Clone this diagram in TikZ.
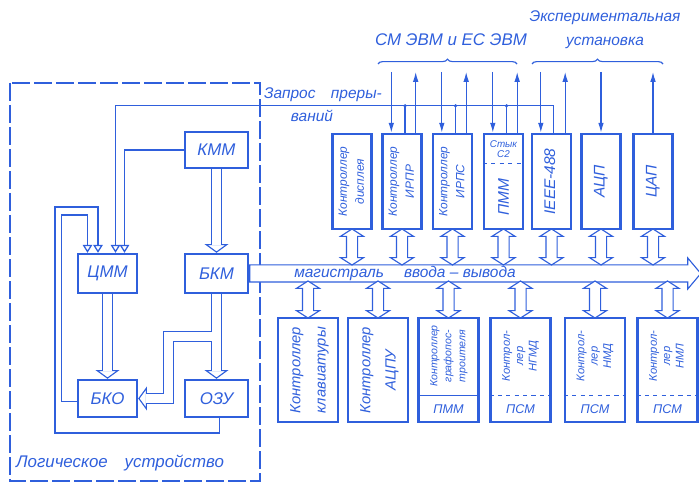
\documentclass[tikz,border=0pt]{standalone}
\usepackage{fontspec}
\setmainfont{Liberation Sans}
\usetikzlibrary{arrows.meta, shapes.arrows, calc, backgrounds, decorations.pathreplacing}
\definecolor{blu}{HTML}{2F5FDC}
\newcommand\vt[1]{\rotatebox{90}{\begin{tabular}{@{}c@{}}#1\end{tabular}}}

\begin{document}
\begin{tikzpicture}[x=0.25mm, y=-0.25mm, blu, font=\itshape, >=Latex,
        blk/.style={draw=blu, line width=1.7pt, inner sep=0pt, text=blu},
        wh/.style 2 args={minimum width=#1*0.25mm, minimum height=#2*0.25mm},
        upr/.style={blk, wh={39}{95}, font=\itshape\fontsize{8.5}{12}\selectfont},
        lwr/.style={blk, wh={60}{104}, font=\itshape\fontsize{10.5}{18}\selectfont},
        fbig/.style={font=\itshape\fontsize{12}{14}\selectfont},
        fmid/.style={font=\itshape\fontsize{11}{13}\selectfont},
        fsm/.style={font=\itshape\fontsize{9}{10}\selectfont},
        sig/.style={line width=0.9pt, -{Latex[length=2.5mm, width=1.4mm]}},
        opn/.style={line width=0.9pt, -{Triangle[open, length=2mm, width=2.4mm]}},
        hs/.style={blu, line width=0.8pt, double=white, double distance=2.2mm},
        hh/.style={blu, line width=0.8pt, -{Triangle[fill=white, length=2.2mm, width=6mm]}},
        dbl/.style={double arrow, draw=blu, fill=white, line width=0.8pt, inner sep=0pt,
            text height=1.25mm, text depth=1.25mm, double arrow head extend=1.5mm,
            double arrow tip angle=115, rotate=90},
        bus/.style={single arrow, draw=blu, fill=white, line width=0.8pt, inner sep=0pt,
            text height=2mm, text depth=2mm, minimum height=112.75mm,
            single arrow head extend=1.75mm, single arrow tip angle=100},
        sep/.style={line width=0.6pt},
        frm/.style={line width=0.8pt, dash pattern=on 4.5mm off 1mm}]
    \useasboundingbox (0,0) rectangle (699,484);
    % логическое устройство
    \draw[frm] (10,83) rectangle (260,481);
    \node[fbig] (lu) at (120,463) {Логическое\quad устройство};
    \node[blk, wh={63}{36}, fbig] (kmm) at (216.5,150) {КММ};
    \node[blk, wh={59}{39}, fbig] (cmm) at (107.5,273.5) {ЦММ};
    \node[blk, wh={63}{39}, fbig] (bkm) at (216.5,273.5) {БКМ};
    \node[blk, wh={59}{37}, fbig] (bko) at (107.5,398.5) {БКО};
    \node[blk, wh={63}{37}, fbig] (ozu) at (216.5,398.5) {ОЗУ};
    % верхний ряд
    \node[upr] (disp) at (352,181.5) {\vt{Контроллер\\дисплея}};
    \node[upr] (irpr) at (402,181.5) {\vt{Контроллер\\ИРПР}};
    \node[upr] (irps) at (452.5,181.5) {\vt{Контроллер\\ИРПС}};
    \node[upr] (pmm) at (503.5,181.5) {};
    \node[upr, fmid] (ieee) at (551.5,181.5) {\vt{IEEE-488}};
    \node[upr, fmid] (acp) at (601,181.5) {\vt{АЦП}};
    \node[upr, fmid] (cap) at (653,181.5) {\vt{ЦАП}};
    \node[font=\itshape\fontsize{7}{7.5}\selectfont, align=center] (pmm-s) at (503.5,149) {Стык\\С2};
    \draw[sep, dashed] (pmm.west |- 0,163) -- (pmm.east |- 0,163);
    \node[fmid] (pmm-t) at (503.5,197) {\rotatebox{90}{ПММ}};
    % нижний ряд
    \node[lwr] (klav) at (308,370) {\vt{Контроллер\\клавиатуры}};
    \node[lwr] (acpu) at (378,370) {\vt{Контроллер\\АЦПУ}};
    \node[lwr] (graf) at (448.5,370) {};
    \node[font=\itshape\fontsize{7.5}{10}\selectfont] (graf-t) at (448.5,356) {\vt{Контроллер\\графопос-\\троителя}};
    \draw[sep] (graf.west |- 0,395) -- (graf.east |- 0,395);
    \node[fsm] (graf-p) at (448.5,409) {ПММ};
    \foreach \n/\x/\lbl in {ngmd/520.5/НГМД, nmd/595/НМД, nml/667.5/НМЛ} {
        \node[lwr] (\n) at (\x,370) {};
        \node[font=\itshape\fontsize{8}{9.5}\selectfont] (\n-t) at (\x,356) {\vt{Контрол-\\лер\\\lbl}};
        \draw[sep, dashed] (\n.west |- 0,395) -- (\n.east |- 0,395);
        \node[fsm] (\n-p) at (\x,409) {ПСМ};
    }
    % магистраль
    \node[bus, anchor=tail] (bus) at (bkm.east) {};
    \node[font=\itshape\fontsize{11}{12}\selectfont] (bus-lab) at (405,273) {магистраль\hspace{5mm}ввода – вывода};
    \foreach \n in {disp,irpr,irps,pmm,ieee,acp,cap}
        \node[dbl, minimum height=9mm] (\n-io) at (\n.south |- 0,247) {};
    \foreach \n in {klav,acpu,graf,ngmd,nmd,nml}
        \node[dbl, minimum height=9.25mm] (\n-io) at (\n.north |- 0,299.5) {};
    % внешние линии
    \foreach \n in {irpr,irps,pmm,ieee} {
        \draw[sig] ($(\n.north west)+(10,-61)$) -- ($(\n.north west)+(10,0)$);
        \draw[sig] ($(\n.north east)+(-7,0)$) -- ($(\n.north east)+(-7,-61)$);
    }
    \draw[sig] ($(acp.north)+(0,-61)$) -- (acp.north);
    \draw[sig] (cap.north) -- ($(cap.north)+(0,-61)$);
    \draw[line width=0.8pt, decorate, decoration={brace, amplitude=1.2mm}] (378,64) -- (517,64);
    \draw[line width=0.8pt, decorate, decoration={brace, amplitude=1.2mm}] (532,64) -- (663,64);
    \node[fbig] (sm) at (451,40) {СМ ЭВМ и ЕС ЭВМ};
    \node[font=\itshape\fontsize{11}{17}\selectfont, align=center] (exp) at (605,30) {Экспериментальная\\установка};
    % запрос прерываний
    \draw[opn] ($(ieee.north)+(2,0)$) -- ++(0,-27) -| ($(cmm.north)+(8,0)$);
    \foreach \n in {irpr,irps,pmm} {
        \draw[line width=0.9pt] ($(\n.north)+(3,0)$) -- ++(0,-27);
        \fill ($(\n.north)+(3,-27)$) circle (0.45mm);
    }
    \node[fmid] (irq1) at (323,95) {Запрос\quad преры-};
    \node[fmid] (irq2) at (312,116) {ваний};
    % связи внутри
    \draw[opn] (kmm.west) -| ($(cmm.north)+(17,0)$);
    \draw[opn] ($(bko.west)+(0,3)$) -- ++(-15,0) |- (87.5,215) -- (cmm.north -| 87.5,0);
    \draw[opn] ($(ozu.south)+(3,0)$) |- (55,433) |- (98,207) -- (cmm.north -| 98,0);
    \begin{scope}[on background layer, blu]
        \draw[hh] ($(bkm.north)+(0,-10)$) -- (bkm.north);
        \draw[hs] (kmm.south) -- ($(bkm.north)+(0,-7.5)$);
        \draw[hh] ($(bko.north)+(0,-10)$) -- (bko.north);
        \draw[hs] (cmm.south) -- ($(bko.north)+(0,-7.5)$);
        \draw[hh] ($(ozu.north)+(0,-10)$) -- (ozu.north);
        \draw[hh] ($(bko.east)+(10,0)$) -- (bko.east);
        \draw[hs] (bkm.south) -- ($(ozu.north)+(0,-7.5)$);
        \draw[hs] ($(bkm.south)+(0,42)$) -| ($(bko.east)+(30,0)$) -- ($(bko.east)+(7.5,0)$);
        \draw[white, line width=2.2mm] (bkm.south) -- ($(ozu.north)+(0,-7.5)$);
    \end{scope}
\end{tikzpicture}
\end{document}
